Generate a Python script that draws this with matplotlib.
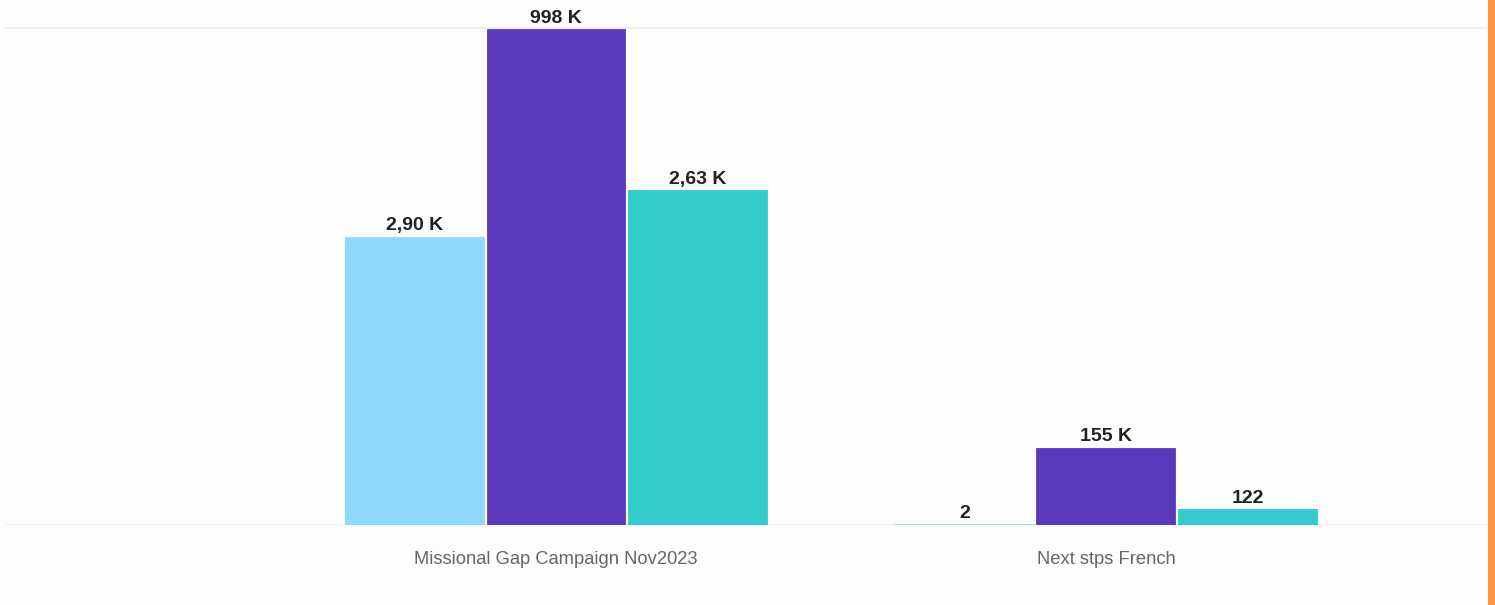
import matplotlib
matplotlib.use("Agg")
import matplotlib.pyplot as plt
from matplotlib.patches import Rectangle

plt.rcParams['font.family'] = ['Liberation Sans', 'DejaVu Sans']

categories = ["Missional Gap Campaign Nov2023", "Next stps French"]
series_a = [2900, 2]          # light blue
series_b = [998000, 155000]   # purple
series_c = [2630, 122]        # teal
colors = ["#8fd8ff", "#5b3bbb", "#33cccc"]

# each series is drawn on its own independent value scale
scale_max = [5010, 1002000, 3915]


def fmt(v):
    if v >= 100000:
        return f"{v / 1000:.0f} K"
    if v >= 1000:
        return f"{v / 1000:.2f} K".replace('.', ',')
    return str(v)


W, H = 1495, 605
fig = plt.figure(figsize=(W / 100, H / 100), dpi=100)
fig.patch.set_facecolor("#fdfdfd")

left, right = 5 / W, 1487 / W
bottom, top = (H - 524.5) / H, (H - 27) / H
ax = fig.add_axes([left, bottom, right - left, top - bottom])
ax.set_facecolor("#fdfdfd")

x = list(range(len(categories)))
bw = 0.2527
offs = [-0.2575, 0.0, 0.2575]

axes = [ax, ax.twinx(), ax.twinx()]
for a, vals, col, off, ym in zip(axes, [series_a, series_b, series_c], colors, offs, scale_max):
    a.set_ylim(0, ym)
    a.set_xlim(-1.002, 1.693)
    xs = [xi + off for xi in x]
    bars = a.bar(xs, vals, width=bw, color=col, edgecolor=col, linewidth=0.6, zorder=3)
    for b, v in zip(bars, vals):
        a.annotate(fmt(v), (b.get_x() + b.get_width() / 2, b.get_height()),
                   xytext=(0, 1.5), textcoords="offset points", ha="center", va="bottom",
                   fontsize=14, fontweight="bold", color="#222222", zorder=5)
    for s in a.spines.values():
        s.set_visible(False)
    a.tick_params(left=False, right=False, labelleft=False, labelright=False, bottom=False)
    if a is not ax:
        a.set_yticks([])

ax.set_yticks([0, scale_max[0]])
ax.yaxis.grid(True, color="#ececec", linewidth=1.8, zorder=0)
ax.set_axisbelow(True)
ax.set_xticks(x)
ax.set_xticklabels(categories, fontsize=13.2, color="#666666")
ax.tick_params(axis="x", pad=19, length=0)

fig.patches.append(Rectangle((1487.5 / W, 0), 7.5 / W, 1, transform=fig.transFigure,
                             facecolor="#ff9640", edgecolor="none"))

fig.savefig("out.png", dpi=100, facecolor=fig.get_facecolor())
